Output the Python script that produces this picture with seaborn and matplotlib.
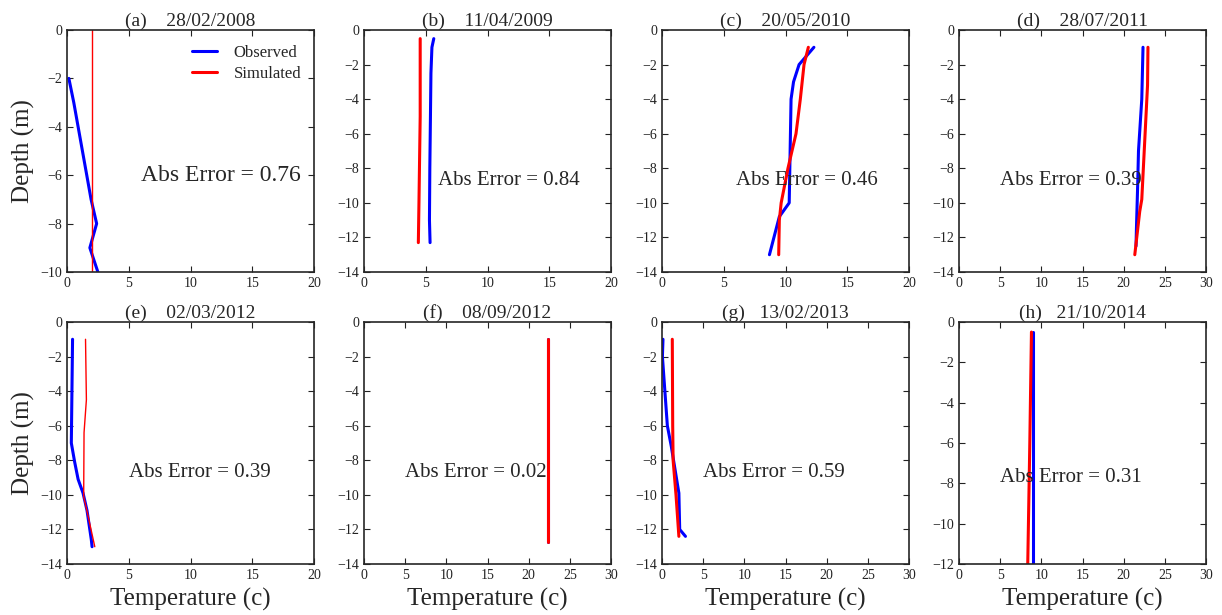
import pandas as pd
import matplotlib.pyplot as plt
import seaborn as sns

# panel info
titles = ['(a)    28/02/2008', '(b)    11/04/2009', '(c)    20/05/2010', '(d)    28/07/2011',
          '(e)    02/03/2012', '(f)    08/09/2012', '(g)   13/02/2013', '(h)   21/10/2014']
abs_errors = [0.76, 0.84, 0.46, 0.39, 0.39, 0.02, 0.59, 0.31]
x_max = [20, 20, 20, 30, 20, 30, 30, 30]
y_min = [-10, -14, -14, -14, -14, -14, -14, -12]

# observed profiles (temperature, depth)
obs_a_t = [0.15, 0.55, 0.9, 1.25, 1.6, 1.95, 2.4, 1.85, 2.5]
obs_a_d = [-2, -3, -4, -5, -6, -7, -8, -9, -10]
obs_b_t = [5.65, 5.5, 5.42, 5.38, 5.33, 5.3, 5.35]
obs_b_d = [-0.5, -1, -2.5, -5, -8, -11, -12.3]
obs_c_t = [12.3, 11.1, 10.65, 10.45, 10.3, 9.5, 8.7]
obs_c_d = [-1, -2, -3, -4, -10, -10.8, -13]
obs_d_t = [22.35, 22.2, 21.8, 21.7, 21.55, 21.5]
obs_d_d = [-1, -4, -7, -9, -11.5, -12.5]
obs_e_t = [0.45, 0.35, 0.62, 0.9, 1.3, 1.62, 1.97, 2.03]
obs_e_d = [-1, -7, -8.1, -9.1, -9.9, -10.9, -12.6, -13]
obs_f_t = [22.3, 22.3, 22.3]
obs_f_d = [-1, -7, -12.7]
obs_g_t = [0.12, 0.05, 0.65, 1.13, 2.05, 2.15, 2.85]
obs_g_d = [-1, -2, -6, -7.2, -9.9, -12, -12.4]
obs_h_t = [9.0, 9.0, 9.0]
obs_h_d = [-0.5, -6, -12]

# simulated profiles (temperature, depth)
sim_a_t = [2.0, 2.0]
sim_a_d = [0, -10]
sim_b_t = [4.55, 4.55, 4.45, 4.4]
sim_b_d = [-0.5, -5, -10, -12.3]
sim_c_t = [11.85, 11.5, 11.2, 10.85, 10.2, 9.65, 9.5, 9.45]
sim_c_d = [-1, -2, -4, -6, -8, -10, -11, -13]
sim_d_t = [22.95, 22.9, 22.2, 21.95, 21.35]
sim_d_d = [-1, -3.2, -9.8, -10.5, -13]
sim_e_t = [1.5, 1.57, 1.38, 1.35, 1.7, 2.25]
sim_e_d = [-1, -4.5, -6.4, -10.1, -11.2, -13]
sim_f_t = [22.3, 22.3, 22.3]
sim_f_d = [-1, -7, -12.7]
sim_g_t = [1.25, 1.3, 1.35, 1.7, 2.05]
sim_g_d = [-1, -6, -8, -10, -12.4]
sim_h_t = [8.8, 8.6, 8.35]
sim_h_d = [-0.5, -6, -12]

obs = [(obs_a_t, obs_a_d), (obs_b_t, obs_b_d), (obs_c_t, obs_c_d), (obs_d_t, obs_d_d),
       (obs_e_t, obs_e_d), (obs_f_t, obs_f_d), (obs_g_t, obs_g_d), (obs_h_t, obs_h_d)]
sim = [(sim_a_t, sim_a_d), (sim_b_t, sim_b_d), (sim_c_t, sim_c_d), (sim_d_t, sim_d_d),
       (sim_e_t, sim_e_d), (sim_f_t, sim_f_d), (sim_g_t, sim_g_d), (sim_h_t, sim_h_d)]

# where the error label sits (data coords) and how wide the red line is
text_pos = [(6, -6), (6, -8.7), (6, -8.7), (5, -8.7), (5, -8.7), (5, -8.7), (5, -8.7), (5, -7.7)]
sim_lw = [1.0, 2.2, 2.2, 2.2, 1.0, 2.2, 2.2, 2.2]

sns.set_style('ticks')
plt.rcParams['font.family'] = ['Liberation Serif', 'DejaVu Serif']
plt.rcParams['xtick.direction'] = 'in'
plt.rcParams['ytick.direction'] = 'in'
plt.rcParams['xtick.top'] = True
plt.rcParams['ytick.right'] = True

W, H = 1222, 615
fig = plt.figure(figsize=(W / 100, H / 100), dpi=100)
lefts = [67, 364, 662, 959]
tops = [30, 322]
aw, ah = 247, 242

for i in range(8):
    r, c = divmod(i, 4)
    ax = fig.add_axes([lefts[c] / W, 1 - (tops[r] + ah) / H, aw / W, ah / H])
    ot, od = obs[i]
    st, sd = sim[i]
    sns.lineplot(x=ot, y=od, sort=False, estimator=None, ax=ax, color='blue', lw=2.2, label='Observed')
    sns.lineplot(x=st, y=sd, sort=False, estimator=None, ax=ax, color='red', lw=sim_lw[i], label='Simulated')
    ax.set_xlim(0, x_max[i])
    ax.set_ylim(y_min[i], 0)
    ax.set_xticks(range(0, x_max[i] + 1, 5))
    ax.set_yticks(range(y_min[i], 1, 2))
    ax.tick_params(labelsize=10, length=4, width=0.8, colors='#222222')
    for s in ax.spines.values():
        s.set_linewidth(1.2)
    ax.set_title(titles[i], fontsize=14, pad=2)
    tx, ty = text_pos[i]
    ax.text(tx, ty, 'Abs Error = %.2f' % abs_errors[i], fontsize=17 if i == 0 else 15, va='center')
    ax.set_xlabel('Temperature (c)' if r == 1 else '', fontsize=18)
    ax.set_ylabel('Depth (m)' if c == 0 else '', fontsize=18)
    if i == 0:
        leg = ax.legend(loc='upper right', bbox_to_anchor=(1.01, 1.0), frameon=False,
                        fontsize=12, handlelength=1.5, handletextpad=1.0, labelspacing=0.3)
        for h in leg.get_lines():
            h.set_linewidth(2.2)
    else:
        ax.get_legend().remove()

fig.savefig('out.png', dpi=100)
